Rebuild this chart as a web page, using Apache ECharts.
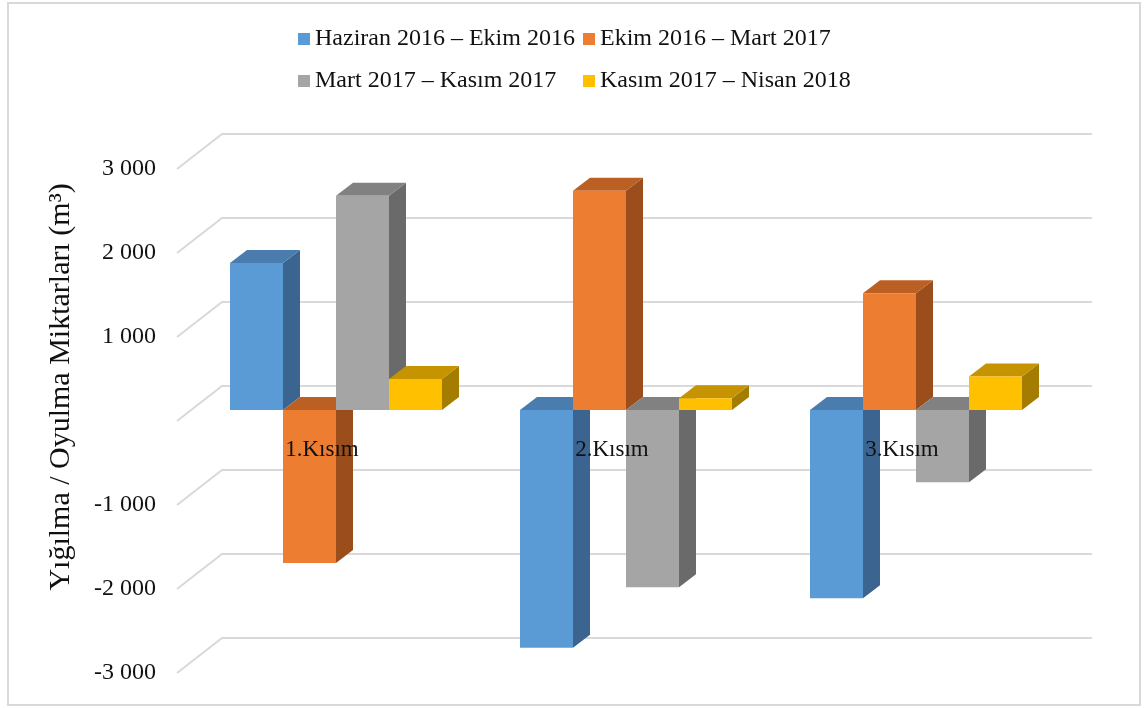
<!DOCTYPE html>
<html><head><meta charset="utf-8">
<script src="https://cdn.jsdelivr.net/npm/echarts@6/dist/echarts.min.js"></script>
<style>html,body{margin:0;padding:0;background:#fff}#c{width:1146px;height:708px}</style>
</head><body><div id="c"></div>
<script>
// ---- data ----
const categories = ['1.Kısım', '2.Kısım', '3.Kısım'];
const seriesNames = ['Haziran 2016 – Ekim 2016', 'Ekim 2016 – Mart 2017', 'Mart 2017 – Kasım 2017', 'Kasım 2017 – Nisan 2018'];
const haziran2016Ekim2016 = [1750, -2830, -2240];
const ekim2016Mart2017 = [-1820, 2610, 1390];
const mart2017Kasim2017 = [2550, -2110, -860];
const kasim2017Nisan2018 = [370, 140, 400];
const yTicks = [-3000, -2000, -1000, 0, 1000, 2000, 3000];
const yTitle = 'Yığılma / Oyulma Miktarları (m³)';

// ---- styles ----
const FONT = "'Liberation Serif', 'Times New Roman', serif";
const TXT = '#111';
const palette = [
  { front: '#5B9BD5', top: '#4A7DAE', side: '#3B6590' },
  { front: '#ED7D31', top: '#BC5F23', side: '#9B4E1C' },
  { front: '#A5A5A5', top: '#818181', side: '#6A6A6A' },
  { front: '#FFC000', top: '#C69400', side: '#A47D00' }
];
const allValues = [haziran2016Ekim2016, ekim2016Mart2017, mart2017Kasim2017, kasim2017Nisan2018];
const BAR_FRAC = 212 / 290;         // share of the category band used by the 4 bars
const DEPTH = [17, -13];            // bar depth projection
const FRONT_OFF = [-14, 11];        // bar plane -> front (label) plane
const BACK_OFF = [31, -24];         // bar plane -> back wall

function fmt(v) {
  if (v === 0) return '';
  const s = Math.abs(v).toString().replace(/\B(?=(\d{3})+(?!\d))/g, ' ');
  return (v < 0 ? '-' : '') + s;
}

function barRenderer(s) {
  return function (params, api) {
    const ci = api.value(0), v = api.value(1);
    const p0 = api.coord([ci, 0]);
    const p1 = api.coord([ci, v]);
    const band = api.size([1, 0])[0];
    const bw = band * BAR_FRAC / 4;
    const xl = p0[0] - 2 * bw + s * bw, xr = xl + bw;
    const yTop = Math.min(p0[1], p1[1]), yBot = Math.max(p0[1], p1[1]);
    const [dx, dy] = DEPTH;
    const c = palette[s];
    return {
      type: 'group',
      children: [
        { type: 'polygon', shape: { points: [[xr, yTop], [xr + dx, yTop + dy], [xr + dx, yBot + dy], [xr, yBot]] },
          style: { fill: c.side } },
        { type: 'polygon', shape: { points: [[xl, yTop], [xr, yTop], [xr + dx, yTop + dy], [xl + dx, yTop + dy]] },
          style: { fill: c.top } },
        { type: 'rect', shape: { x: xl, y: yTop, width: bw, height: yBot - yTop },
          style: { fill: c.front } }
      ]
    };
  };
}

function gridRenderer(params, api) {
  const y = api.coord([0, api.value(1)])[1];
  const x0 = params.coordSys.x, x1 = params.coordSys.x + params.coordSys.width;
  return {
    type: 'polyline',
    shape: { points: [[x0 + FRONT_OFF[0], y + FRONT_OFF[1]], [x0 + BACK_OFF[0], y + BACK_OFF[1]], [x1 + BACK_OFF[0], y + BACK_OFF[1]]] },
    style: { stroke: '#D9D9D9', lineWidth: 2, fill: null }
  };
}

const series = [{
  type: 'custom', xAxisIndex: 0, yAxisIndex: 0, z: 1, silent: true,
  data: yTicks.map(v => [0, v]), renderItem: gridRenderer
}];
allValues.forEach((vals, s) => {
  series.push({
    type: 'custom', name: seriesNames[s], xAxisIndex: 0, yAxisIndex: 0, z: 2,
    itemStyle: { color: palette[s].front },
    data: vals.map((v, i) => [i, v]),
    renderItem: barRenderer(s)
  });
});

const legendPos = [[298, 27], [583, 27], [298, 69], [583, 69]];
const legends = seriesNames.map((n, i) => ({
  data: [n], left: legendPos[i][0], top: legendPos[i][1], padding: 0,
  icon: 'rect', itemWidth: 12, itemHeight: 12,
  textStyle: { fontFamily: FONT, fontSize: 24, lineHeight: 24, color: TXT }
}));

// front plane: zero line sits half-way down the 504px grid -> axis offset of -252
const option = {
  animation: false,
  backgroundColor: '#fff',
  legend: legends,
  grid: [
    { left: 191, top: 158, width: 870, height: 504 },
    { left: 177, top: 169, width: 870, height: 504 }
  ],
  xAxis: [
    { gridIndex: 0, type: 'category', data: categories, show: false },
    { gridIndex: 1, type: 'category', data: categories, z: 10, position: 'bottom', offset: -252,
      axisLine: { show: false, onZero: false },
      axisTick: { show: false },
      axisLabel: { interval: 0, margin: 17, fontFamily: FONT, fontSize: 23, color: TXT },
      splitLine: { show: false } }
  ],
  yAxis: [
    { gridIndex: 0, type: 'value', min: -3000, max: 3000, interval: 1000, show: false },
    { gridIndex: 1, type: 'value', min: -3000, max: 3000, interval: 1000,
      axisLine: { show: false }, axisTick: { show: false }, splitLine: { show: false },
      axisLabel: { margin: 21, fontFamily: FONT, fontSize: 24, color: TXT, formatter: fmt } }
  ],
  graphic: [
    { type: 'rect', shape: { x: 8, y: 3, width: 1132, height: 702 }, style: { fill: null, stroke: '#D9D9D9', lineWidth: 2 }, silent: true },
    { type: 'text', x: 61, y: 387, rotation: Math.PI / 2,
      style: { text: yTitle, fontFamily: FONT, fontSize: 30, fill: TXT, align: 'center', verticalAlign: 'middle' } }
  ],
  series: series
};

const chart = echarts.init(document.getElementById('c'), null, { renderer: 'canvas' });
chart.setOption(option);
</script>
</body></html>
